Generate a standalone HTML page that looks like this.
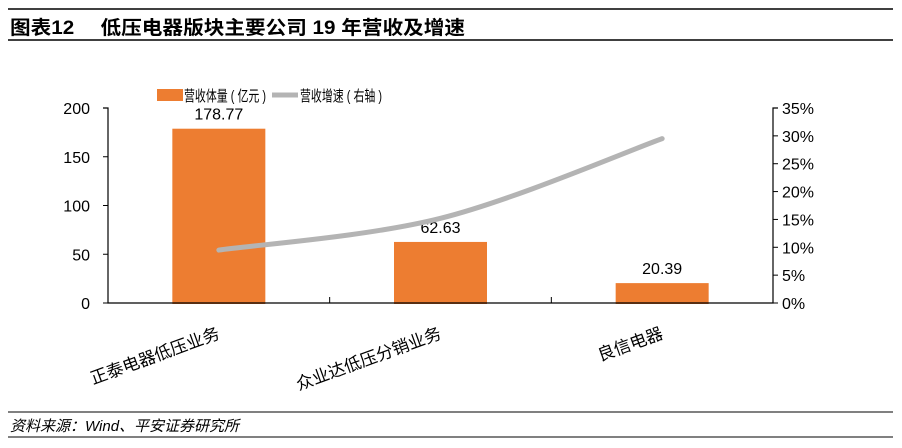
<!DOCTYPE html>
<html><head><meta charset="utf-8"><style>
body{margin:0;background:#fff;}
svg{display:block;font-family:"Liberation Sans","Noto Sans CJK SC",sans-serif;}
</style></head><body>
<svg id="c" width="902" height="448" viewBox="0 0 902 448">
<line x1="8" y1="9" x2="893" y2="9" stroke="#000" stroke-width="1.5"/>
<text x="10" y="34" font-size="19" font-weight="bold" textLength="455" lengthAdjust="spacingAndGlyphs">图表12　 低压电器版块主要公司 19 年营收及增速</text>
<line x1="8" y1="40" x2="893" y2="40" stroke="#000" stroke-width="1.5"/>
<g>
<rect x="157" y="89" width="26" height="12" fill="#ED7D31"/>
<text x="184" y="101" font-size="15" textLength="82" lengthAdjust="spacingAndGlyphs">营收体量 ( 亿元 )</text>
<line x1="272" y1="95" x2="298" y2="95" stroke="#b4b4b4" stroke-width="5"/>
<text x="300" y="101" font-size="15" textLength="82" lengthAdjust="spacingAndGlyphs">营收增速 ( 右轴 )</text>
</g>
<g id="plot"></g>
<line x1="8" y1="412" x2="893" y2="412" stroke="#000" stroke-width="1"/>
<text x="10" y="431" font-size="15" font-style="italic">资料来源：Wind、平安证券研究所</text>
<line x1="8" y1="437" x2="893" y2="437" stroke="#000" stroke-width="1"/>
</svg>
<script>
const categories=["正泰电器低压业务","众业达低压分销业务","良信电器"];
const revenue=[178.77,62.63,20.39];
const revenueLabels=["178.77","62.63","20.39"];
const growth=[9.5,15.2,29.5];
const leftTicks=[0,50,100,150,200];
const rightTicks=[0,5,10,15,20,25,30,35];

const NS="http://www.w3.org/2000/svg";
const g=document.getElementById("plot");
const L=108,R=773,T=108,B=303;
const band=(R-L)/categories.length;
const xC=i=>L+band*(i+0.5);
const yL=v=>B-(v/200)*(B-T);
const yR=v=>B-(v/35)*(B-T);
function mk(t,a){const e=document.createElementNS(NS,t);for(const k in a)e.setAttribute(k,a[k]);g.appendChild(e);return e;}

leftTicks.forEach(v=>{
 const t=mk("line",{x1:L-5,y1:yL(v),x2:L,y2:yL(v),stroke:"#000"});
 
 
 const s=mk("text",{x:L-18,y:yL(v)+6,"font-size":16,"text-anchor":"end"});
 s.textContent=v;
 
 
});
rightTicks.forEach(v=>{
 const t=mk("line",{x1:R,y1:yR(v),x2:R+5,y2:yR(v),stroke:"#000"});
 
 
 const s=mk("text",{x:R+9,y:yR(v)+6,"font-size":16});
 s.textContent=v+"%";
 
 
});
categories.forEach((c,i)=>{
 const h=yL(0)-yL(revenue[i]);
 const b=mk("rect",{x:xC(i)-46.5,y:yL(revenue[i]),width:93,height:h+1,fill:"#ED7D31"});
 
 
 const lb=mk("text",{x:xC(i),y:yL(revenue[i])-9,"font-size":16,"text-anchor":"middle"});
 lb.textContent=revenueLabels[i];
 
 
 const cx=xC(i)+2,cy=338;
 const cl=mk("text",{x:cx,y:cy,"font-size":17,"text-anchor":"end",transform:`rotate(-20 ${cx} ${cy})`});
 cl.textContent=c;
 
 
 if(i>0){const d=mk("line",{x1:L+band*i,y1:B-6,x2:L+band*i,y2:B,stroke:"#000"});
 
 }
});
const ax=mk("path",{d:`M${L-5} ${T} H${L} V${B} H${R} V${T} H${R+5}`,fill:"none",stroke:"#000","stroke-width":1.2});


const P=growth.map((v,i)=>[xC(i),yR(v)]);
let d=`M${P[0][0]} ${P[0][1]}`;
for(let i=0;i<P.length-1;i++){
 const p0=P[i-1]||P[i],p1=P[i],p2=P[i+1],p3=P[i+2]||P[i+1];
 d+=` C${p1[0]+(p2[0]-p0[0])/6} ${p1[1]+(p2[1]-p0[1])/6} ${p2[0]-(p3[0]-p1[0])/6} ${p2[1]-(p3[1]-p1[1])/6} ${p2[0]} ${p2[1]}`;
}
const ln=mk("path",{d:d,fill:"none",stroke:"#b4b4b4","stroke-width":5,"stroke-linecap":"round"});


</script>
</body></html>
